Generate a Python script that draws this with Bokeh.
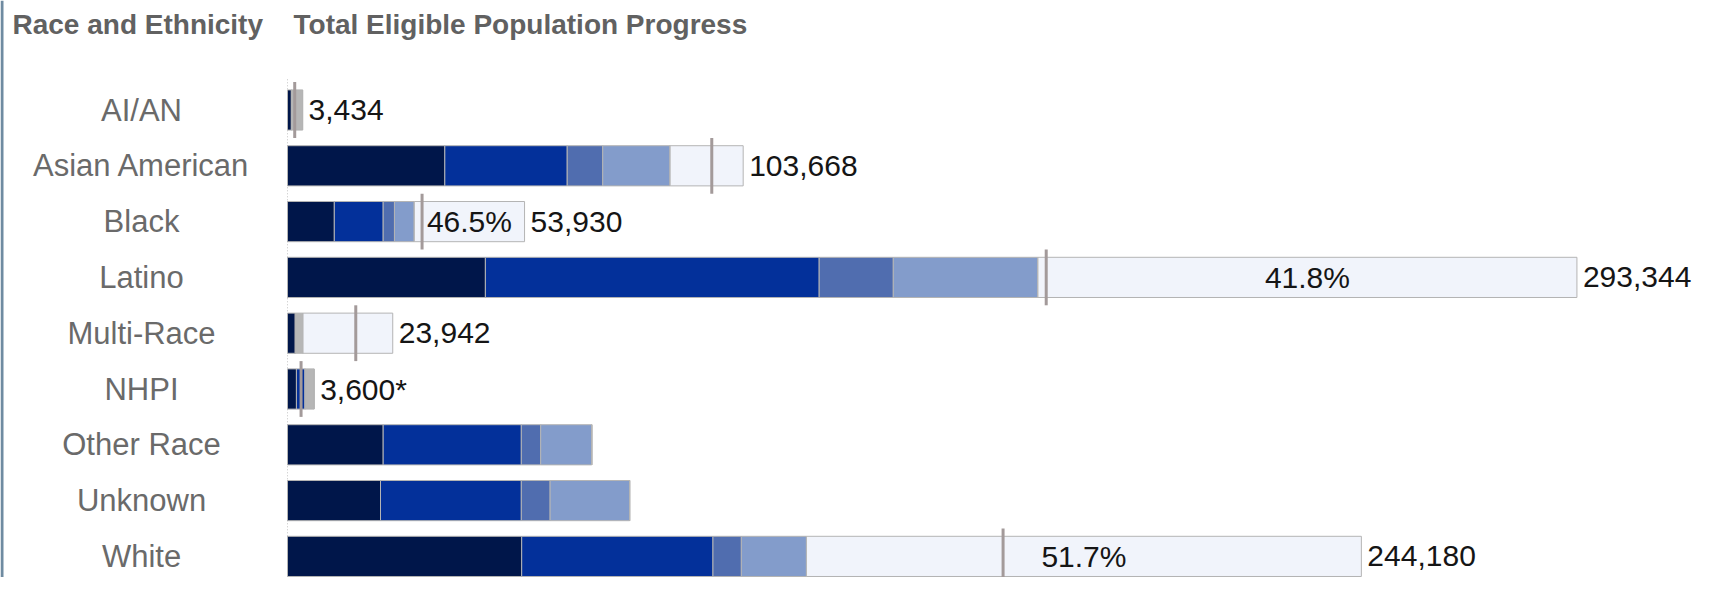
from bokeh.plotting import figure
from bokeh.models import Range1d, ColumnDataSource
from bokeh.embed import file_html
from bokeh.resources import INLINE
from bokeh.core.properties import value

# ---------------- data ----------------
categories = ["AI/AN", "Asian American", "Black", "Latino", "Multi-Race",
              "NHPI", "Other Race", "Unknown", "White"]
seg_1 = [900, 35790, 10647, 45020, 1800, 2030, 21767, 21159, 53281]
seg_2 = [0, 27845, 11120, 75936, 0, 2000, 31424, 32032, 43512]
seg_3 = [0, 8081, 2566, 16860, 0, 0, 4412, 6550, 6460]
seg_4 = [0, 15330, 4520, 32910, 0, 0, 11615, 18098, 14812]
seg_suppressed = [2534, 0, 0, 0, 1733, 2030, 0, 0, 0]
seg_remaining = [0, 16622, 25077, 122618, 20409, 0, 0, 0, 126241]
marker = [1643, 96523, 30614, 172607, 15532, 3084, None, None, 162793]
total_labels = ["3,434", "103,668", "53,930", "293,344", "23,942", "3,600*", "", "", "244,180"]
pct_labels = ["", "", "46.5%", "41.8%", "", "", "", "", "51.7%"]

title_left = "Race and Ethnicity"
title_right = "Total Eligible Population Progress"

# ---------------- layout ----------------
W, H = 1693, 577
ORIGIN_PX = 287.0          # pixel of value 0
PER_PX = 227.5             # persons per pixel
ROW_PX = 55.8
FIRST_ROW_PX = 109.5

def px2x(px):
    return (px - ORIGIN_PX) * PER_PX

def px2y(px):
    return (px - FIRST_ROW_PX) / ROW_PX

stackers = ["s1", "s2", "s3", "s4", "sup", "rem"]
colors = ["#00164A", "#03309A", "#506DAF", "#839CCB", "#B6B6B6", "#F1F4FB"]

n = len(categories)
ys = list(range(n))
ends = [seg_1[i] + seg_2[i] + seg_3[i] + seg_4[i] + seg_suppressed[i] + seg_remaining[i]
        for i in range(n)]
src = ColumnDataSource(dict(
    y=ys, cat=categories,
    s1=seg_1, s2=seg_2, s3=seg_3, s4=seg_4, sup=seg_suppressed, rem=seg_remaining,
    end=ends,
    pct_x=[ends[i] - seg_remaining[i] / 2 for i in range(n)],
    m=[float("nan") if v is None else v for v in marker],
    m0=[y - 0.5 for y in ys], m1=[y + 0.5 for y in ys],
    tot=total_labels, pct=pct_labels,
    lx=[px2x(141)] * n,
))

p = figure(width=W, height=H,
           x_range=Range1d(px2x(0), px2x(W)),
           y_range=Range1d(px2y(H), px2y(0)),
           output_backend="svg", toolbar_location=None,
           x_axis_location=None, y_axis_location=None,
           min_border=0, outline_line_color=None)
p.grid.visible = False
p.background_fill_color = "white"
p.border_fill_color = "white"

# left border of the panel
p.segment(x0=[px2x(1.5)], y0=[px2y(0)], x1=[px2x(1.5)], y1=[px2y(H)],
          line_color="#6F8BA1", line_width=3)

# dotted baseline
p.segment(x0=[0], y0=[-0.55], x1=[0], y1=[n - 1 + 0.55],
          line_color="#C4C4C4", line_width=1, line_dash="1 2")

p.hbar_stack(stackers, y="y", height=0.72, color=colors, source=src,
             line_color="#B4B4B4", line_width=1)

# target markers
p.segment(x0="m", y0="m0", x1="m", y1="m1", source=src,
          line_color="#A39A9A", line_width=3)

FONT = value("Liberation Sans")
p.text(x="end", y="y", text="tot", source=src, x_offset=6,
       text_font=FONT, text_font_size="30px", text_color="#151515",
       text_align="left", text_baseline="middle")
p.text(x="pct_x", y="y", text="pct", source=src,
       text_font=FONT, text_font_size="30px", text_color="#151515",
       text_align="center", text_baseline="middle")
p.text(x="lx", y="y", text="cat", source=src,
       text_font=FONT, text_font_size="31px", text_color="#6A6A6A",
       text_align="center", text_baseline="middle")

# column headers
p.text(x=[px2x(12), px2x(293)], y=[px2y(39), px2y(39)],
       text=[title_left, title_right],
       text_font=FONT, text_font_size="28px", text_font_style="bold",
       text_color="#616161", text_align="left", text_baseline="bottom")

open("out.html", "w").write(file_html(p, INLINE))
